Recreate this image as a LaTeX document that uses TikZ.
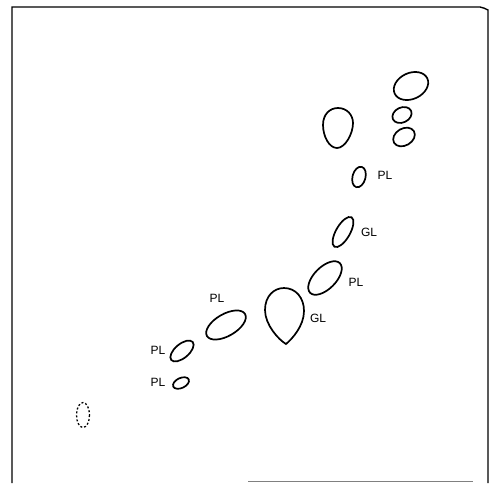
\documentclass[tikz,border=0pt]{standalone}
\usepackage{fontspec}
\setsansfont{Liberation Sans}
\tikzset{
  spot/.style={line width=1.7pt},
  lab/.style={font=\sffamily\fontsize{12}{14}\selectfont,inner sep=0pt}
}
\begin{document}
\begin{tikzpicture}[x=1pt,y=-1pt]
  \useasboundingbox (0,0) rectangle (497,483);
  % frame
  \draw[line width=1.4pt] (12,483) -- (12,7) -- (480,7) to[bend left=8] (488,10) -- (488,483);
  \draw[line width=1pt,gray] (248,481) -- (473,481);
  % spots
  \draw[spot] (411,86) ellipse[x radius=18,y radius=13,rotate=25];
  \draw[spot] (402,115) ellipse[x radius=10,y radius=7.5,rotate=25];
  \draw[spot] (404,137) ellipse[x radius=11.5,y radius=8.5,rotate=30];
  \draw[spot] (337,148) .. controls (329,148) and (323,136) .. (323,125)
    .. controls (323,114) and (330,108) .. (338,108)
    .. controls (347,108) and (353,115) .. (353,123)
    .. controls (353,134) and (345,148) .. (337,148) -- cycle;
  \draw[spot] (359,177) ellipse[x radius=6.5,y radius=10.5,rotate=-15];
  \draw[spot] (343,232) ellipse[x radius=7,y radius=17,rotate=-30];
  \draw[spot] (325,278) ellipse[x radius=21,y radius=11,rotate=45];
  \draw[spot] (286,344) .. controls (279,340) and (265,325) .. (265,310)
    .. controls (265,296) and (274,288) .. (284,288)
    .. controls (296,288) and (304,298) .. (304,311)
    .. controls (304,326) and (292,339) .. (286,344) -- cycle;
  \draw[spot] (226,325) ellipse[x radius=22,y radius=11,rotate=30];
  \draw[spot] (182,351) ellipse[x radius=14,y radius=7,rotate=40];
  \draw[spot] (181,383) ellipse[x radius=8.5,y radius=5,rotate=25];
  \draw[line width=1.3pt,dash pattern=on 2pt off 2pt] (83,415) ellipse[x radius=6.5,y radius=12.5];
  % labels
  \node[lab] (pl1) at (385,175) {PL};
  \node[lab] (gl1) at (369,232) {GL};
  \node[lab] (pl2) at (356,282) {PL};
  \node[lab] (gl2) at (318,318) {GL};
  \node[lab] (pl3) at (217,298) {PL};
  \node[lab] (pl4) at (158,350) {PL};
  \node[lab] (pl5) at (158,382) {PL};
\end{tikzpicture}
\end{document}
